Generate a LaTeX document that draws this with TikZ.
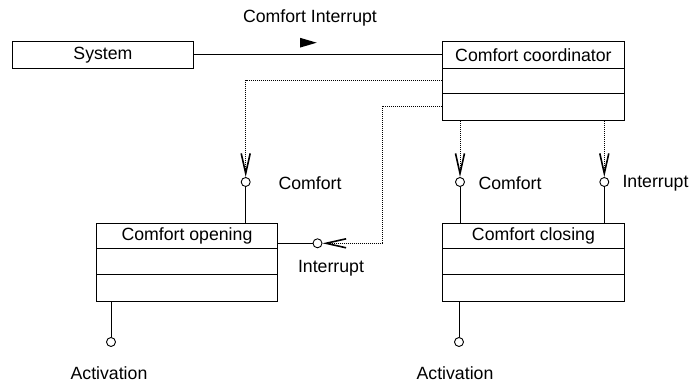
\documentclass[tikz,border=0pt]{standalone}
\usepackage{fontspec}
\setmainfont{Liberation Sans}
\usetikzlibrary{arrows.meta}
\begin{document}
\begin{tikzpicture}[x=1pt,y=-1pt,
  every node/.style={font=\fontsize{17.7}{20}\selectfont},
  box/.style={draw,line width=0.9pt,rectangle,inner sep=0pt,minimum width=182pt,minimum height=26pt,anchor=north west},
  comp/.style={draw,line width=0.9pt,rectangle,inner sep=0pt,minimum width=182pt,anchor=north west},
  port/.style={draw,circle,line width=0.9pt,inner sep=0pt,minimum size=9pt,fill=white},
  conn/.style={line width=0.9pt},
  dep/.style={line width=0.9pt,dash pattern=on 1pt off 1pt,-{Straight Barb[length=20pt,width=9pt,line width=1.6pt]}},
  lbl/.style={inner sep=0pt}
]
\useasboundingbox (0,0) rectangle (691,382);
% System
\node[box,minimum width=181pt,minimum height=27pt] (sys) at (12,41) {System};
% Comfort coordinator
\node[box,minimum height=27pt] (coord) at (442,41) {Comfort coordinator};
\node[comp,minimum height=25pt] (coordA) at (442,68) {};
\node[comp,minimum height=27pt] (coordB) at (442,93) {};
% Comfort opening
\node[box,minimum width=181pt,minimum height=25.5pt] (open) at (96,223) {Comfort opening};
\node[comp,minimum width=181pt,minimum height=25.5pt] (openA) at (96,248.5) {};
\node[comp,minimum width=181pt,minimum height=27pt] (openB) at (96,274) {};
% Comfort closing
\node[box,minimum height=25.5pt] (close) at (442,223) {Comfort closing};
\node[comp,minimum height=25.5pt] (closeA) at (442,248.5) {};
\node[comp,minimum height=27pt] (closeB) at (442,274) {};
% ports
\node[port] (p1) at (245.7,182) {};
\node[port] (p2) at (317.5,243.3) {};
\node[port] (p3) at (460,182) {};
\node[port] (p4) at (604.3,182) {};
\node[port] (p5) at (111,342) {};
\node[port] (p6) at (459,342) {};
% labels
\node[lbl] (lint) at (310,18) {Comfort Interrupt};
\node[lbl] (lc1) at (310,183) {Comfort};
\node[lbl] (li1) at (331,268) {Interrupt};
\node[lbl] (lc2) at (510,183) {Comfort};
\node[lbl] (li2) at (655.5,183) {Interrupt};
\node[lbl] (la1) at (109,373) {Activation};
\node[lbl] (la2) at (455,373) {Activation};
% direction triangle
\fill (300,37.8) -- (316.7,42.7) -- (300,47.6) -- cycle;
% connectors
\draw[conn] (sys.east) -- (coord.west |- sys.east);
\draw[conn] (p1.south) -- (p1.south |- open.north);
\coordinate (oe) at (open.east |- p2.west);
\draw[conn] (oe) -- (p2.west);
\draw[conn] (p3.south) -- (p3.south |- close.north);
\draw[conn] (p4.south) -- (p4.south |- close.north);
\draw[conn] (p5.north) -- (p5.north |- openB.south);
\draw[conn] (p6.north) -- (p6.north |- closeB.south);
% dependencies
\coordinate (c1) at (coordA.west |- 0,80);
\draw[dep] (c1) -| (p1.north);
\coordinate (c2) at (coordB.west |- 0,106);
\coordinate (bend) at (382.3,243.3);
\draw[dep] (c2) -| (bend) -- (p2.east);
\draw[dep] (p3.north |- coordB.south) -- (p3.north);
\draw[dep] (p4.north |- coordB.south) -- (p4.north);
\end{tikzpicture}
\end{document}
